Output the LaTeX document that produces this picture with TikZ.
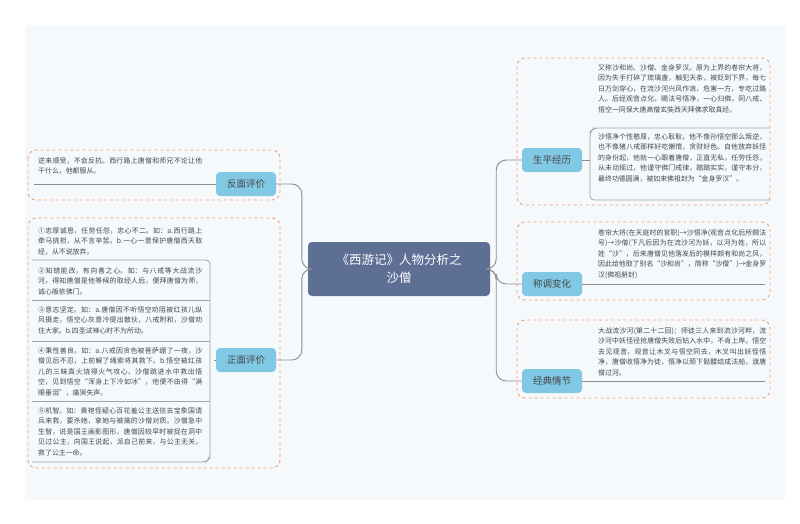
\documentclass[tikz,border=0pt]{standalone}
\usepackage{fontspec}
\setmainfont{Noto Sans CJK SC}
\XeTeXlinebreaklocale "zh"
\XeTeXlinebreakskip=0pt plus 1pt
\definecolor{rootblue}{RGB}{93,112,148}
\definecolor{topicblue}{RGB}{128,200,228}
\definecolor{dashorange}{RGB}{240,160,110}
\definecolor{linegray}{RGB}{140,140,140}
\definecolor{txtgray}{RGB}{70,70,70}
\definecolor{bggray}{RGB}{246,249,252}
\usetikzlibrary{calc}
\usetikzlibrary{positioning}
\tikzset{
  root/.style={fill=rootblue, rounded corners=4pt, text=white, minimum width=182pt, minimum height=54pt, align=center, font=\fontsize{12.5}{18}\selectfont},
  topic/.style={fill=topicblue, rounded corners=4pt, text=txtgray, minimum width=60pt, minimum height=24pt, font=\fontsize{9.5}{11}\selectfont},
  group/.style={draw=dashorange, dashed, line width=0.9pt, rounded corners=8pt},
  leaf/.style={text=txtgray, align=justify, text width=168pt, inner sep=2pt, font=\fontsize{6.9}{10.6}\selectfont, anchor=north west},
  leftleaf/.style={leaf, text width=164pt},
  link/.style={draw=linegray, line width=0.9pt, rounded corners=10pt},
  frame/.style={draw=linegray!80, line width=0.8pt, rounded corners=4pt}
}
\begin{document}
\begin{tikzpicture}[x=1pt,y=-1pt]
  \useasboundingbox (0,0) rectangle (800,523);
  \fill [white] (0,0) rectangle (800,523);
  \fill [bggray] (25,25) rectangle (785,500);

  % dashed groups
  \draw [group] (517,58) rectangle (770,205);
  \draw [group] (517,222) rectangle (770,300);
  \draw [group] (517,320) rectangle (770,398);
  \draw [group] (28,150) rectangle (280,200);
  \draw [group] (28,218) rectangle (280,468);

  \node [root] (root) at (399,269) {《西游记》人物分析之\\沙僧};

  % right side
  \node [topic] (life) at (552,160) {生平经历};
  \node [topic] (name) at (552,284) {称调变化};
  \node [topic] (story) at (552,381) {经典情节};
  % left side
  \node [topic] (neg) at (246,184) {反面评价};
  \node [topic] (pos) at (246,360) {正面评价};

  \draw [link] (root.east) -- ++(6,0) |- (life.west);
  \draw [link] (root.east) -- ++(6,0) |- (name.west);
  \draw [link] (root.east) -- ++(6,0) |- (story.west);
  \draw [link] (root.west) -- ++(-6,0) |- (neg.east);
  \draw [link] (root.west) -- ++(-6,0) |- (pos.east);

  % leaves of life
  \node [leaf] (life1) at (596,62) {又称沙和尚、沙僧、金身罗汉。原为上界的卷帘大将，因为失手打碎了琉璃盏，触犯天条，被贬到下界，每七日万剑穿心，在流沙河兴风作浪，危害一方，专吃过路人。后经观音点化，赐法号悟净，一心归佛，同八戒、悟空一同保大唐高僧玄奘西天拜佛求取真经。};
  \node [leaf] (life2) at (596,131) {沙悟净个性憨厚，忠心耿耿，他不像孙悟空那么叛逆，也不像猪八戒那样好吃懒惰，贪财好色。自他放弃妖怪的身份起，他就一心跟着唐僧，正直无私，任劳任怨，从未动摇过，他谨守佛门戒律，踏踏实实，谨守本分，最终功德圆满，被如来佛祖封为“金身罗汉”。};
  \draw [frame] (770,128) -- (594,128) -- (590,132) |- (770,200);
  \draw [link] (life.east) -- (590,160);

  \node [leaf] (name1) at (596,227) {卷帘大将(在天庭时的官职)→沙悟净(观音点化后所赐法号)→沙僧(下凡后因为在流沙河为妖，以河为姓，所以姓“沙”，后来唐僧见他落发后的模样颇有和尚之风，因此给他取了别名“沙和尚”，简称“沙僧”)→金身罗汉(佛祖册封)};
  \draw [link] (name.east) -- (765,284);

  \node [leaf] (story1) at (596,325) {大战流沙河(第二十二回)：师徒三人来到流沙河畔，流沙河中妖怪径抢唐僧失败后钻入水中，不肯上岸。悟空去见观音，观音让木叉与悟空同去，木叉叫出妖怪悟净，唐僧收悟净为徒，悟净以颈下骷髅结成法船，渡唐僧过河。};
  \draw [link] (story.east) -- (765,381);

  % leaves of neg
  \node [leftleaf] (neg1) at (36,155) {逆来顺受，不会反抗。西行路上唐僧和师兄不论让他干什么，他都服从。};
  \draw [link] (neg.west) -- (34,184);

  % leaves of pos
  \node [leftleaf] (pos1) at (36,225) {①忠厚诚恳，任劳任怨，忠心不二。如：a.西行路上牵马挑担，从不言辛苦。b.一心一意保护唐僧西天取经，从不说放弃。};
  \node [leftleaf] (pos2) at (36,265) {②知错能改，有向善之心。如：与八戒等大战流沙河，得知唐僧是他等候的取经人后，便拜唐僧为师，诚心皈依佛门。};
  \node [leftleaf] (pos3) at (36,304) {③意志坚定。如：a.唐僧因不听悟空劝阻被红孩儿纵风摄走，悟空心灰意冷提出散伙，八戒附和，沙僧劝住大家。b.四圣试禅心时不为所动。};
  \node [leftleaf] (pos4) at (36,345) {④秉性善良。如：a.八戒因贪色被菩萨绷了一夜，沙僧见后不忍，上前解了绳索将其救下。b.悟空被红孩儿的三昧真火烧得火气攻心，沙僧跳进水中救出悟空，见到悟空“浑身上下冷如冰”，他便不由得“满眼垂泪”，痛哭失声。};
  \node [leftleaf] (pos5) at (36,405) {⑤机智。如：黄袍怪疑心百花羞公主送信去宝象国请兵来救，要杀她，拿她与被擒的沙僧对质。沙僧急中生智，说是国王画影图形，唐僧因较早时被捉在洞中见过公主，向国王说起，派自己前来，与公主无关，救了公主一命。};
  \draw [link] (pos.west) -- (214,360);
  \draw [frame] (32,260) -| (210,458) -- (206,462) -- (32,462);
  \foreach \y in {300,341,401} {
    \draw [frame] (32,\y) -- (210,\y);
  }
\end{tikzpicture}
\end{document}
